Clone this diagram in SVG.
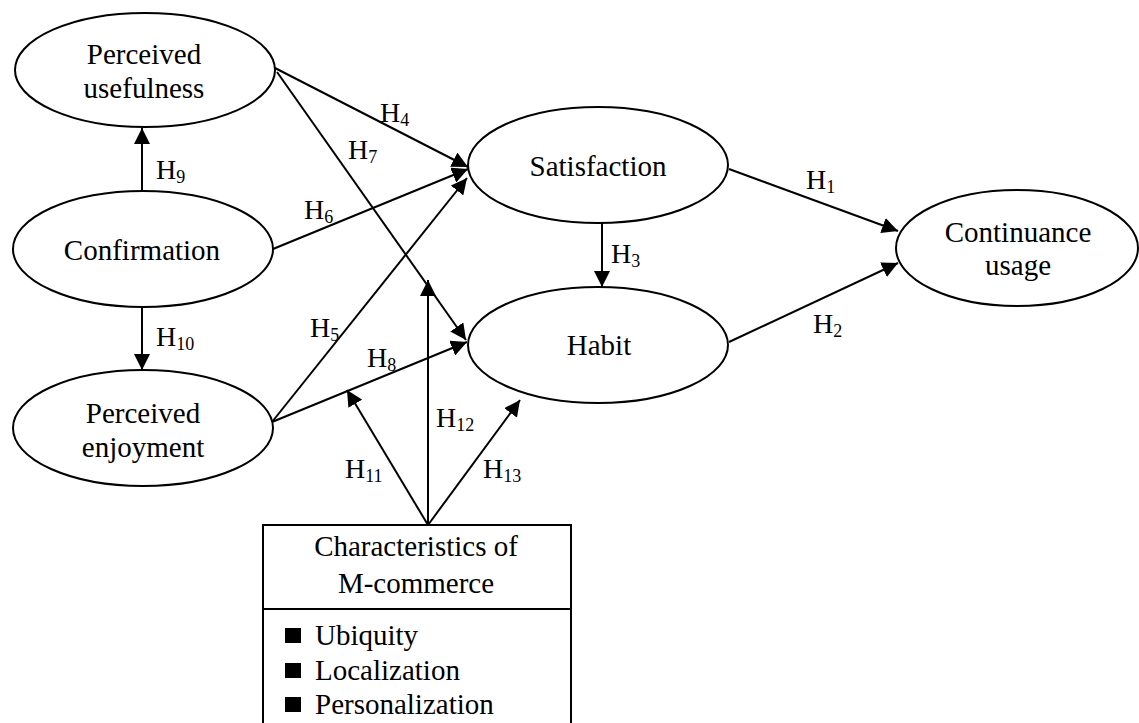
<svg xmlns="http://www.w3.org/2000/svg" width="1139" height="723" viewBox="0 0 1139 723">
<defs>
<style>
.n{fill:#fff;stroke:#000;stroke-width:2}
.t{font-family:"Liberation Serif","Times New Roman",serif;font-size:29px;fill:#000;text-anchor:middle}
.bt{font-family:"Liberation Serif","Times New Roman",serif;font-size:29px;fill:#000}
.l{font-family:"Liberation Serif","Times New Roman",serif;font-size:28px;fill:#000}
.s{font-size:18px}
.c{fill:none;stroke:#000;stroke-width:2;marker-end:url(#ah)}
</style>
<marker id="ah" markerUnits="userSpaceOnUse" markerWidth="16" markerHeight="16" viewBox="0 0 16 16" refX="16" refY="8" orient="auto">
<path d="M0,0 L16,8 L0,16 Z" fill="#000"/>
</marker>
</defs>
<rect width="1139" height="723" fill="#fff"/>
<g id="pu"><ellipse class="n" cx="145" cy="70" rx="130" ry="57"/><text class="t" x="144" y="64">Perceived</text><text class="t" x="144" y="98">usefulness</text></g>
<g id="conf"><ellipse class="n" cx="143" cy="249" rx="130" ry="58"/><text class="t" x="142" y="260">Confirmation</text></g>
<g id="enj"><ellipse class="n" cx="143" cy="428" rx="130" ry="58"/><text class="t" x="143" y="423">Perceived</text><text class="t" x="143" y="457">enjoyment</text></g>
<g id="sat"><ellipse class="n" cx="598" cy="165" rx="130" ry="58"/><text class="t" x="598" y="176">Satisfaction</text></g>
<g id="habit"><ellipse class="n" cx="598" cy="345" rx="130" ry="58"/><text class="t" x="599" y="355">Habit</text></g>
<g id="cont"><ellipse class="n" cx="1017" cy="248" rx="121" ry="58"/><text class="t" x="1018" y="242">Continuance</text><text class="t" x="1018" y="275">usage</text></g>
<g id="mc">
<path d="M263,730 V525 H571 V730 M263,609 H571" fill="none" stroke="#000" stroke-width="2"/>
<text class="t" x="416" y="556">Characteristics of</text>
<text class="t" x="416" y="593">M-commerce</text>
<rect x="285" y="628" width="16" height="15" fill="#000"/>
<rect x="285" y="663" width="16" height="15" fill="#000"/>
<rect x="285" y="697" width="16" height="15" fill="#000"/>
<text class="bt" x="315" y="645">Ubiquity</text>
<text class="bt" x="315" y="680">Localization</text>
<text class="bt" x="315" y="714">Personalization</text>
</g>
<g id="connectors">
<path class="c" d="M275,68 L468,167"/>
<path class="c" d="M277,72 L466,340"/>
<path class="c" d="M273,249 L468,169"/>
<path class="c" d="M272,422 L467,178"/>
<path class="c" d="M272,422 L467,342"/>
<path class="c" d="M142,191 L142,128"/>
<path class="c" d="M142,307 L142,370"/>
<path class="c" d="M602,223 L602,287"/>
<path class="c" d="M729,169 L898,231"/>
<path class="c" d="M729,342 L898,263"/>
<path class="c" d="M428,525 L347,390"/>
<path class="c" d="M428,525 L428,280"/>
<path class="c" d="M428,525 L520,400"/>
</g>
<g id="labels">
<text class="l" x="806" y="189">H<tspan class="s" dy="4">1</tspan></text>
<text class="l" x="813" y="333">H<tspan class="s" dy="4">2</tspan></text>
<text class="l" x="611" y="263">H<tspan class="s" dy="4">3</tspan></text>
<text class="l" x="380" y="122">H<tspan class="s" dy="4">4</tspan></text>
<text class="l" x="310" y="337">H<tspan class="s" dy="4">5</tspan></text>
<text class="l" x="304" y="219">H<tspan class="s" dy="4">6</tspan></text>
<text class="l" x="348" y="159">H<tspan class="s" dy="4">7</tspan></text>
<text class="l" x="367" y="367">H<tspan class="s" dy="4">8</tspan></text>
<text class="l" x="156" y="179">H<tspan class="s" dy="4">9</tspan></text>
<text class="l" x="156" y="346">H<tspan class="s" dy="4">10</tspan></text>
<text class="l" x="345" y="478">H<tspan class="s" dy="4">11</tspan></text>
<text class="l" x="436" y="427">H<tspan class="s" dy="4">12</tspan></text>
<text class="l" x="483" y="478">H<tspan class="s" dy="4">13</tspan></text>
</g>
</svg>
